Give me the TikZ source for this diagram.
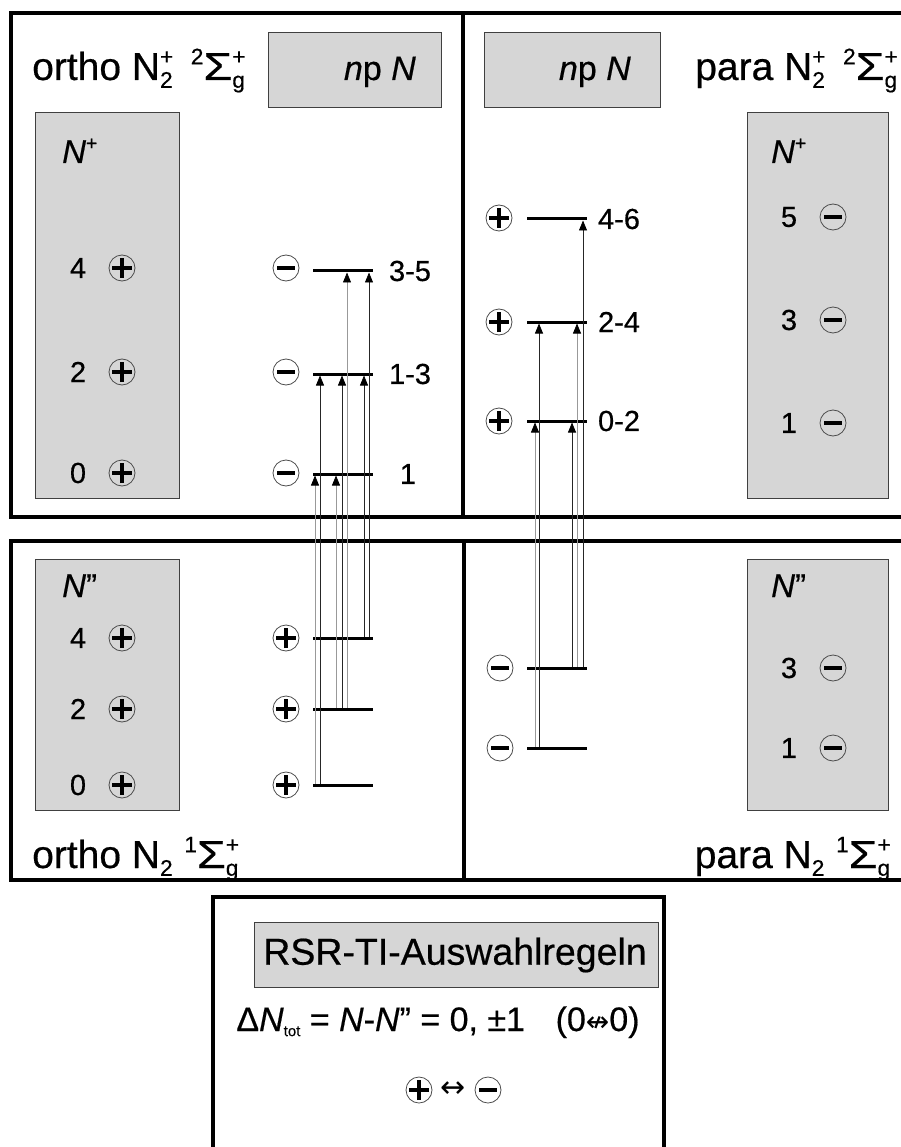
\documentclass[tikz,border=0pt]{standalone}
\usepackage{fontspec}
\usepackage{graphicx}
\setmainfont{Liberation Sans}[FakeBold=0.5]
\newfontfamily\symfont{DejaVu Sans}
\usetikzlibrary{arrows.meta}

% stacked superscript / subscript, sized from the current font
\newcommand\SupSub[2]{%
  \begingroup
  \edef\sssize{\the\dimexpr0.58em\relax}%
  \edef\ssup{\the\dimexpr0.40em\relax}%
  \edef\ssub{\the\dimexpr0.20em\relax}%
  \fontsize{\sssize}{\sssize}\selectfont
  \setbox0\hbox{#1}\setbox2\hbox{#2}%
  \ifdim\wd0>\wd2 \dimen0=\wd0 \else \dimen0=\wd2 \fi
  \hbox to\dimen0{\rlap{\raise\ssup\box0}\lower\ssub\box2\hss}%
  \endgroup}
\newcommand\Sig{\scalebox{1.2}[1]{Σ}}

\begin{document}
\begin{tikzpicture}[x=1pt,y=-1pt,
  frame/.style={draw=black, line width=3.6pt},
  shade/.style={draw=black!75, line width=0.9pt, fill=black!16},
  level/.style={fill=black, minimum width=60pt, minimum height=3pt, inner sep=0pt, outer sep=0pt},
  sgn/.style={circle, draw=black!70, line width=0.8pt, minimum size=26pt, inner sep=0pt},
  plus/.style={sgn, path picture={\draw[black, line width=4pt]
      ([xshift=-10pt]path picture bounding box.center) -- ([xshift=10pt]path picture bounding box.center)
      ([yshift=-10pt]path picture bounding box.center) -- ([yshift=10pt]path picture bounding box.center);}},
  minus/.style={sgn, path picture={\draw[black, line width=4pt]
      ([xshift=-9pt]path picture bounding box.center) -- ([xshift=9pt]path picture bounding box.center);}},
  tr/.style={line width=0.7pt, -{Triangle[width=8pt,length=10pt,color=black]}},
  trl/.style={tr, draw=black!40},
  trd/.style={tr, draw=black!85},
  lbl/.style={font=\fontsize{29}{31}\selectfont, inner sep=0pt},
  head/.style={font=\fontsize{33}{35}\selectfont, inner sep=0pt},
  ttl/.style={font=\fontsize{39}{41}\selectfont, inner sep=0pt},
  npn/.style={font=\fontsize{34}{36}\selectfont, inner sep=0pt}
]
\useasboundingbox (0,0) rectangle (901,1147);

% panel frames
\draw[frame] (11,13) rectangle (906,517);
\draw[frame] (463,13) -- (463,517);
\draw[frame] (11,541) rectangle (906,880);
\draw[frame] (464,541) -- (464,880);
\draw[frame] (213,897) rectangle (664,1165);

% shaded label boxes
\draw[shade] (268,32) rectangle (441,107);
\draw[shade] (484,32) rectangle (660,107);
\draw[shade] (35,112) rectangle (179,498);
\draw[shade] (747,112) rectangle (888,498);
\draw[shade] (35,559) rectangle (179,810);
\draw[shade] (747,559) rectangle (888,810);
\draw[shade] (254,922) rectangle (658,987);

% headings
\node[ttl, anchor=base west] (hOI) at (32,80) {ortho N\SupSub{+}{2}\hspace{0.45em}\SupSub{2}{}\Sig\SupSub{+}{g}};
\node[ttl, anchor=base east] (hPI) at (898,80) {para N\SupSub{+}{2}\hspace{0.45em}\SupSub{2}{}\Sig\SupSub{+}{g}};
\node[ttl, anchor=base west] (hON) at (32,868) {ortho N\SupSub{}{2}\hspace{0.3em}\SupSub{1}{}\Sig\SupSub{+}{g}};
\node[ttl, anchor=base east] (hPN) at (891,868) {para N\SupSub{}{2}\hspace{0.3em}\SupSub{1}{}\Sig\SupSub{+}{g}};
\node[npn, anchor=base east] (npO) at (416,80) {\textit{n}p \textit{N}};
\node[npn, anchor=base east] (npP) at (631,80) {\textit{n}p \textit{N}};

% column heads in the shaded boxes
\node[head, anchor=base west] (cOI) at (62,163) {\textit{N}\SupSub{+}{}};
\node[head, anchor=base west] (cPI) at (771,163) {\textit{N}\SupSub{+}{}};
\node[head, anchor=base west] (cON) at (62,597) {\textit{N}”};
\node[head, anchor=base west] (cPN) at (771,597) {\textit{N}”};

% ion rotational levels N+
\node[lbl] (oi4) at (78,268) {4}; \node[plus] (oi4s) at (122,268) {};
\node[lbl] (oi2) at (78,372) {2}; \node[plus] (oi2s) at (122,372) {};
\node[lbl] (oi0) at (78,473) {0}; \node[plus] (oi0s) at (122,473) {};
\node[lbl] (pi5) at (789,217) {5}; \node[minus] (pi5s) at (833,217) {};
\node[lbl] (pi3) at (789,320) {3}; \node[minus] (pi3s) at (833,320) {};
\node[lbl] (pi1) at (789,423) {1}; \node[minus] (pi1s) at (833,423) {};

% neutral rotational levels N''
\node[lbl] (on4) at (78,638) {4}; \node[plus] (on4s) at (122,638) {};
\node[lbl] (on2) at (78,709) {2}; \node[plus] (on2s) at (122,709) {};
\node[lbl] (on0) at (78,785) {0}; \node[plus] (on0s) at (122,785) {};
\node[lbl] (pn3) at (789,668) {3}; \node[minus] (pn3s) at (833,668) {};
\node[lbl] (pn1) at (789,748) {1}; \node[minus] (pn1s) at (833,748) {};

% ortho Rydberg levels np N
\node[level] (oU3) at (343,271) {}; \node[minus] (oU3s) at (286,268) {}; \node[lbl] (oU3l) at (410,271) {3-5};
\node[level] (oU2) at (343,374) {}; \node[minus] (oU2s) at (286,372) {}; \node[lbl] (oU2l) at (410,374) {1-3};
\node[level] (oU1) at (343,474) {}; \node[minus] (oU1s) at (286,473) {}; \node[lbl] (oU1l) at (408,474) {1};
% ortho ground levels
\node[level] (oL4) at (343,638) {}; \node[plus] (oL4s) at (286,638) {};
\node[level] (oL2) at (343,709) {}; \node[plus] (oL2s) at (286,709) {};
\node[level] (oL0) at (343,785) {}; \node[plus] (oL0s) at (286,785) {};

% para Rydberg levels np N
\node[level] (pU3) at (556.5,219) {}; \node[plus] (pU3s) at (499,218) {}; \node[lbl] (pU3l) at (619,219) {4-6};
\node[level] (pU2) at (556.5,322) {}; \node[plus] (pU2s) at (499,322) {}; \node[lbl] (pU2l) at (619,322) {2-4};
\node[level] (pU1) at (556.5,421) {}; \node[plus] (pU1s) at (499,421) {}; \node[lbl] (pU1l) at (619,421) {0-2};
% para ground levels
\node[level] (pL3) at (556.5,668) {}; \node[minus] (pL3s) at (500,668) {};
\node[level] (pL1) at (556.5,748) {}; \node[minus] (pL1s) at (500,748) {};

% ortho transitions
\draw[trl] ([xshift=-28pt]oL0.north) -- ([xshift=-28pt]oU1.south);
\draw[trd] ([xshift=-23pt]oL0.north) -- ([xshift=-23pt]oU2.south);
\draw[trl] ([xshift=-7pt]oL2.north) -- ([xshift=-7pt]oU1.south);
\draw[trd] ([xshift=-1pt]oL2.north) -- ([xshift=-1pt]oU2.south);
\draw[trl] ([xshift=4pt]oL2.north) -- ([xshift=4pt]oU3.south);
\draw[trd] ([xshift=21pt]oL4.north) -- ([xshift=21pt]oU2.south);
\draw[trd] ([xshift=26pt]oL4.north) -- ([xshift=26pt]oU3.south);

% para transitions
\draw[trl] ([xshift=-21.5pt]pL1.north) -- ([xshift=-21.5pt]pU1.south);
\draw[trd] ([xshift=-17.5pt]pL1.north) -- ([xshift=-17.5pt]pU2.south);
\draw[trd] ([xshift=15.5pt]pL3.north) -- ([xshift=15.5pt]pU1.south);
\draw[trl] ([xshift=20.5pt]pL3.north) -- ([xshift=20.5pt]pU2.south);
\draw[trd] ([xshift=26.5pt]pL3.north) -- ([xshift=26.5pt]pU3.south);

% selection rules
\node[inner sep=0pt, font=\fontsize{37.5}{39}\selectfont] (rsr) at (455,955) {RSR-TI-Auswahlregeln};
\node[inner sep=0pt, font=\fontsize{34}{36}\selectfont, anchor=base] (rule) at (438,1031)
  {Δ\textit{N}\lower0.15em\hbox{\fontsize{15}{15}\selectfont tot} = \textit{N}-\textit{N}” = 0, ±1\hspace{0.9em}(0{\symfont\fontsize{28}{28}\selectfont ↮}0)};
\node[plus] (rp) at (419,1090) {};
\node[minus] (rm) at (488,1090) {};
\node[inner sep=0pt, font=\symfont\fontsize{30}{30}\selectfont] (rar) at (453.5,1090) {↔};
\end{tikzpicture}
\end{document}
